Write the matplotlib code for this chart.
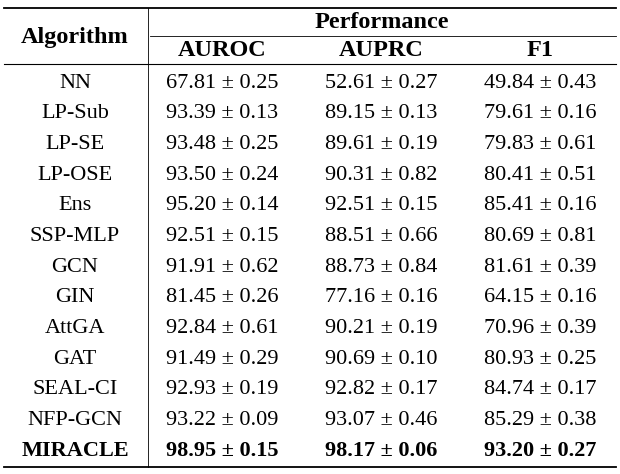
import matplotlib.pyplot as plt
from matplotlib.lines import Line2D

algorithms = ['NN', 'LP-Sub', 'LP-SE', 'LP-OSE', 'Ens', 'SSP-MLP', 'GCN', 'GIN',
              'AttGA', 'GAT', 'SEAL-CI', 'NFP-GCN', 'MIRACLE']
auroc = ['67.81 ± 0.25', '93.39 ± 0.13', '93.48 ± 0.25', '93.50 ± 0.24', '95.20 ± 0.14',
         '92.51 ± 0.15', '91.91 ± 0.62', '81.45 ± 0.26', '92.84 ± 0.61', '91.49 ± 0.29',
         '92.93 ± 0.19', '93.22 ± 0.09', '98.95 ± 0.15']
auprc = ['52.61 ± 0.27', '89.15 ± 0.13', '89.61 ± 0.19', '90.31 ± 0.82', '92.51 ± 0.15',
         '88.51 ± 0.66', '88.73 ± 0.84', '77.16 ± 0.16', '90.21 ± 0.19', '90.69 ± 0.10',
         '92.82 ± 0.17', '93.07 ± 0.46', '98.17 ± 0.06']
f1 = ['49.84 ± 0.43', '79.61 ± 0.16', '79.83 ± 0.61', '80.41 ± 0.51', '85.41 ± 0.16',
      '80.69 ± 0.81', '81.61 ± 0.39', '64.15 ± 0.16', '70.96 ± 0.39', '80.93 ± 0.25',
      '84.74 ± 0.17', '85.29 ± 0.38', '93.20 ± 0.27']

W, H = 620, 474
fig = plt.figure(figsize=(6.2, 4.74), dpi=100)
fig.patch.set_facecolor('white')
font = 'Liberation Serif'


def px(x, y):
    return x / W, 1 - y / H


def txt(x, y, s, bold=False, size=16):
    fig.text(*px(x, y), s, ha='center', va='center', family=font,
             fontweight='bold' if bold else 'normal', fontsize=size)


def hline(x0, x1, y, lw):
    fig.add_artist(Line2D([x0 / W, x1 / W], [1 - y / H, 1 - y / H], lw=lw, color='black'))


hline(4, 616, 8, 1.3)
hline(150, 616, 36, 0.6)
hline(4, 616, 64, 0.8)
hline(4, 616, 467, 1.3)
fig.add_artist(Line2D([148 / W, 148 / W], [1 - 8 / H, 1 - 467 / H], lw=0.6, color='black'))

txt(75, 38, 'Algorithm', bold=True, size=17.5)
txt(382, 22, 'Performance', bold=True, size=17.5)
cols = [222, 381, 540]
for x, h in zip(cols, ['AUROC', 'AUPRC', 'F1']):
    txt(x, 51, h, bold=True, size=17.5)

y0, dy = 83, 30.7
for i, name in enumerate(algorithms):
    y = y0 + i * dy
    b = name == 'MIRACLE'
    txt(75, y, name, bold=b)
    for x, vals in zip(cols, [auroc, auprc, f1]):
        txt(x, y, vals[i], bold=b)

fig.savefig('out.png', dpi=100)
